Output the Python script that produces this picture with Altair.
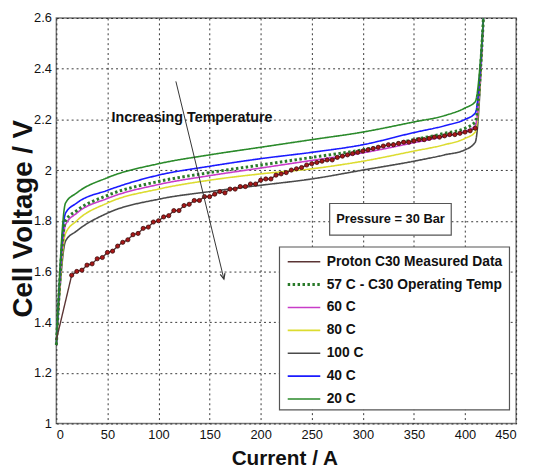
import altair as alt
import pandas as pd

FONT = "Liberation Sans"

series_names = ["Proton C30 Measured Data", "57 C  - C30 Operating Temp", "60 C",
                "80 C", "100 C", "40 C", "20 C"]
series_colors = ["#5b3434", "#2a7a2a", "#c83cc8", "#dcdc30", "#4a4a4a", "#1a1aff", "#2a8a2a"]
series_dash = [[1, 0], [2.5, 2.5], [1, 0], [1, 0], [1, 0], [1, 0], [1, 0]]
series_width = [1.4, 3, 1.6, 1.6, 1.6, 1.6, 1.6]

# model curves (current in A, voltage in V)
model_current = [0, 9, 20, 50, 100, 150, 200, 250, 300, 350, 380, 400, 410, 418]
v_57 = [1.31, 1.80, 1.84, 1.90, 1.955, 1.99, 2.02, 2.05, 2.08, 2.12, 2.145, 2.165, 2.19, 2.6]
v_60 = [1.31, 1.785, 1.83, 1.888, 1.943, 1.978, 2.008, 2.038, 2.068, 2.108, 2.133, 2.153, 2.175, 2.6]
v_80 = [1.31, 1.75, 1.80, 1.87, 1.925, 1.96, 1.985, 2.005, 2.035, 2.075, 2.10, 2.125, 2.15, 2.6]
v_100 = [1.31, 1.72, 1.76, 1.83, 1.885, 1.915, 1.94, 1.965, 2.0, 2.035, 2.06, 2.08, 2.11, 2.6]
v_40 = [1.31, 1.83, 1.87, 1.92, 1.98, 2.015, 2.045, 2.07, 2.10, 2.148, 2.175, 2.20, 2.225, 2.6]
v_20 = [1.31, 1.87, 1.91, 1.97, 2.025, 2.06, 2.09, 2.12, 2.15, 2.19, 2.215, 2.245, 2.27, 2.6]

# measured data
meas_current = [0, 15, 20, 25, 30, 35, 40, 45, 50, 55, 60, 65, 70, 75, 80, 85, 90, 95, 100,
                105, 110, 115, 120, 125, 130, 135, 140, 145, 150, 155, 160, 165, 170, 175,
                180, 185, 190, 195, 200, 205, 210, 215, 220, 225, 230, 235, 240, 245, 250,
                255, 260, 265, 270, 275, 280, 285, 290, 295, 300, 305, 310, 315, 320, 325,
                330, 335, 340, 345, 350, 355, 360, 365, 370, 375, 380, 385, 390, 395, 400,
                405, 410]
meas_voltage = [1.33, 1.585, 1.600, 1.605, 1.625, 1.630, 1.650, 1.655, 1.675, 1.680, 1.700,
                1.715, 1.725, 1.745, 1.750, 1.770, 1.775, 1.795, 1.800, 1.815, 1.820, 1.840,
                1.840, 1.860, 1.865, 1.880, 1.880, 1.895, 1.895, 1.905, 1.915, 1.910, 1.925,
                1.925, 1.935, 1.935, 1.945, 1.945, 1.960, 1.965, 1.965, 1.980, 1.985, 1.990,
                2.000, 2.005, 2.010, 2.020, 2.025, 2.030, 2.035, 2.040, 2.040, 2.050, 2.055,
                2.060, 2.065, 2.070, 2.075, 2.080, 2.085, 2.090, 2.095, 2.100, 2.100, 2.105,
                2.110, 2.110, 2.115, 2.120, 2.120, 2.125, 2.130, 2.130, 2.135, 2.140, 2.140,
                2.145, 2.150, 2.155, 2.165]

rows = []
model_sets = [("100 C", v_100), ("80 C", v_80), ("60 C", v_60), ("40 C", v_40),
              ("20 C", v_20), ("57 C  - C30 Operating Temp", v_57)]
for name, vals in model_sets:
    for c, v in zip(model_current, vals):
        rows.append({"series": name, "current": c, "voltage": v})
models = pd.DataFrame(rows)
meas = pd.DataFrame({"series": series_names[0], "current": meas_current, "voltage": meas_voltage})
meas_pts = meas[meas["current"] >= 15]

x_scale = alt.Scale(domain=[0, 450], nice=False)
y_scale = alt.Scale(domain=[1, 2.6], nice=False)
x_enc = alt.X("current:Q", scale=x_scale,
              axis=alt.Axis(title="Current / A", values=list(range(0, 451, 50)), format="d",
                            titleX=231, titleY=42, titleBaseline="alphabetic", titleFontSize=21))
y_enc = alt.Y("voltage:Q", scale=y_scale,
              axis=alt.Axis(title="Cell Voltage / V", values=[1, 1.2, 1.4, 1.6, 1.8, 2, 2.2, 2.4, 2.6],
                            format="~g", titleX=-25, titleY=203, titleBaseline="alphabetic",
                            titleFontSize=28))
color_enc = alt.Color("series:N", scale=alt.Scale(domain=series_names, range=series_colors),
                      legend=alt.Legend(title=None))
dash_enc = alt.StrokeDash("series:N", scale=alt.Scale(domain=series_names, range=series_dash),
                          legend=alt.Legend(title=None))
width_enc = alt.StrokeWidth("series:N",
                            scale=alt.Scale(type="ordinal", domain=series_names, range=series_width),
                            legend=alt.Legend(title=None))

model_lines = alt.Chart(models).mark_line(interpolate="monotone").encode(
    x=x_enc, y=y_enc, color=color_enc, strokeDash=dash_enc, strokeWidth=width_enc,
    detail="series:N")

meas_line = alt.Chart(meas).mark_line().encode(
    x="current:Q", y="voltage:Q", color=color_enc, strokeDash=dash_enc, strokeWidth=width_enc)

meas_points = alt.Chart(meas_pts).mark_circle(size=18, color="#a81818", opacity=1,
                                              stroke="#3a0c0c", strokeWidth=0.8).encode(
    x="current:Q", y="voltage:Q")

# annotations
arrow_x = [117, 164]
arrow_y = [2.35, 1.57]
arrow_df = pd.DataFrame({"x": [arrow_x[0]], "y": [arrow_y[0]], "x2": [arrow_x[1]], "y2": [arrow_y[1]]})
arrow_line = alt.Chart(arrow_df).mark_rule(color="#333", strokeWidth=1).encode(
    x="x:Q", y="y:Q", x2="x2:Q", y2="y2:Q")
head_df = pd.DataFrame({"x": [arrow_x[1]], "y": [arrow_y[1]]})
arrow_head = alt.Chart(head_df).mark_point(
    shape="M-0.45,-1 L0,0 L0.45,-1", filled=False, size=120, angle=346,
    color="#333", strokeWidth=1.2, opacity=1).encode(x="x:Q", y="y:Q")

label_df = pd.DataFrame({"x": [54], "y": [2.207], "t": ["Increasing Temperature"]})
label = alt.Chart(label_df).mark_text(align="left", baseline="middle", font=FONT,
                                      fontWeight="bold", fontSize=14.5, color="#111").encode(
    x="x:Q", y="y:Q", text="t:N")

box_df = pd.DataFrame({"x": [267.5], "x2": [386.5], "y": [1.868], "y2": [1.743]})
box = alt.Chart(box_df).mark_rect(fill="white", stroke="#555", strokeWidth=1.2).encode(
    x="x:Q", x2="x2:Q", y="y:Q", y2="y2:Q")
box_text_df = pd.DataFrame({"x": [327], "y": [1.806], "t": ["Pressure = 30 Bar"]})
box_text = alt.Chart(box_text_df).mark_text(align="center", baseline="middle", font=FONT,
                                            fontWeight="bold", fontSize=13, color="#111").encode(
    x="x:Q", y="y:Q", text="t:N")

legend_box_df = pd.DataFrame({"x": [218.4], "x2": [443.5], "y": [1.6965], "y2": [1.054]})
legend_box = alt.Chart(legend_box_df).mark_rect(fill="white", stroke="#555", strokeWidth=1.2).encode(
    x="x:Q", x2="x2:Q", y="y:Q", y2="y2:Q")

chart = alt.layer(model_lines, meas_line, meas_points, arrow_line, arrow_head, label, box,
                  box_text, legend_box
).properties(
    width=466, height=411, autosize=alt.AutoSizeParams(type="none"),
    padding={"left": 49, "top": 7, "right": 9, "bottom": 46}
).configure_view(stroke="#777", strokeWidth=1.5
).configure_axis(
    grid=True, gridColor="#222", gridDash=[2, 3], gridWidth=1, gridOpacity=0.9,
    domain=False, ticks=False, labelFont=FONT, labelFontSize=13, labelColor="#111",
    labelPadding=5, titleFont=FONT, titleFontWeight="bold", titleColor="#111"
).configure_legend(
    orient="none", legendX=233, legendY=239, padding=0, fillColor="transparent",
    strokeColor="transparent", labelFont=FONT, labelFontSize=14, labelFontWeight="bold",
    labelColor="#111", symbolType="stroke", symbolSize=1089, rowPadding=7.2, clipHeight=16,
    labelLimit=300, symbolOffset=0, labelOffset=5
)

chart.save("out.html", embed_options={"renderer": "svg", "actions": False})
